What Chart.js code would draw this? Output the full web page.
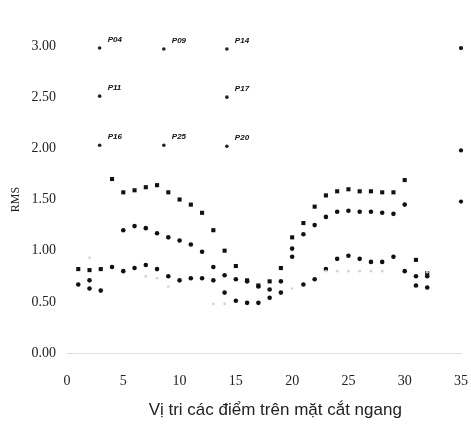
<!DOCTYPE html>
<html>
<head>
<meta charset="utf-8">
<script src="https://cdn.jsdelivr.net/npm/chart.js@4/dist/chart.umd.min.js"></script>
<style>
html,body{margin:0;padding:0;background:#fff;}
canvas{display:block;}
</style>
</head>
<body>
<canvas id="c" width="471" height="428"></canvas>
<script>
// ---- data ----
const positions = [1,2,3,4,5,6,7,8,9,10,11,12,13,14,15,16,17,18,19,20,21,22,23,24,25,26,27,28,29,30,31,32];
const seriesTop = [0.82,0.81,0.82,1.70,1.57,1.59,1.62,1.64,1.57,1.50,1.45,1.37,1.20,1.00,0.85,0.71,0.66,0.70,0.83,1.13,1.27,1.43,1.54,1.58,1.60,1.58,1.58,1.57,1.57,1.69,0.91,0.78];
const seriesMid = [null,null,null,null,1.20,1.24,1.22,1.17,1.13,1.10,1.06,0.99,0.84,0.76,0.72,0.70,0.65,0.62,0.70,1.02,1.16,1.25,1.33,1.38,1.39,1.38,1.38,1.37,1.36,1.45,0.75,0.75];
const seriesLow = [null,0.71,null,0.84,0.80,0.83,0.86,0.82,0.75,0.71,0.73,0.73,0.71,null,null,null,null,null,null,0.94,0.67,0.72,0.82,0.92,0.95,0.92,0.89,0.89,0.94,0.80,0.66,0.64];
const seriesBottom = [0.67,0.63,0.61,null,null,null,null,null,null,null,null,null,null,0.59,0.51,0.49,0.49,0.54,0.59,null,null,null,null,null,null,null,null,null,null,null,null,null];
const seriesFaint = [null,0.93,null,null,null,null,0.75,0.73,0.65,null,null,null,0.48,0.48,null,null,null,null,null,0.63,null,null,0.80,0.80,0.80,0.80,0.80,0.80,null,null,null,0.79];
const edgeX = [35,35,35];
const edgeY = [2.98,1.98,1.48];
const keyNames = ["P04","P09","P14","P11","P17","P16","P25","P20"];
const keyX = [2.9,8.6,14.2,2.9,14.2,2.9,8.6,14.2];
const keyY = [2.98,2.97,2.97,2.51,2.50,2.03,2.03,2.02];
const xTicks = [0,5,10,15,20,25,30,35];
const yTicks = [0,0.5,1,1.5,2,2.5,3];
const xTitle = "Vị tri các điểm trên mặt cắt ngang";
const yTitle = "RMS";

function pts(xs, ys){
  const out = [];
  for (let i=0;i<xs.length;i++){ if (ys[i]!==null) out.push({x:xs[i], y:ys[i]}); }
  return out;
}

const keyLabels = {
  id:'keyLabels',
  afterDatasetsDraw(chart){
    const ctx = chart.ctx;
    const idx = chart.data.datasets.findIndex(d=>d.isKey);
    const meta = chart.getDatasetMeta(idx);
    ctx.save();
    ctx.font = 'italic bold 8px "Liberation Sans", Arial, sans-serif';
    ctx.fillStyle = '#111';
    ctx.textBaseline = 'middle';
    meta.data.forEach((el,i)=>{
      ctx.fillText(keyNames[i], el.x + 8, el.y - 8);
    });
    ctx.restore();
  }
};

const xTitlePlugin = {
  id:'xTitlePlugin',
  afterDraw(chart){
    const ctx = chart.ctx;
    const xs = chart.scales.x;
    ctx.save();
    ctx.font = '17px "Liberation Sans", Arial, sans-serif';
    ctx.fillStyle = '#222';
    ctx.textAlign = 'center';
    ctx.textBaseline = 'middle';
    ctx.fillText(xTitle, xs.getPixelForValue(18.5), xs.bottom - 18);
    ctx.restore();
  }
};

const black = '#111';
new Chart(document.getElementById('c'), {
  type:'scatter',
  data:{
    datasets:[
      {data:pts(positions, seriesFaint), pointStyle:'circle', pointRadius:1.3, backgroundColor:'#d0d0d0', borderColor:'#d0d0d0', borderWidth:0},
      {data:pts(positions, seriesTop), pointStyle:'rect', pointRadius:2.9, backgroundColor:black, borderColor:black, borderWidth:0},
      {data:pts(positions, seriesMid), pointStyle:'circle', pointRadius:2.3, backgroundColor:black, borderColor:black, borderWidth:0},
      {data:pts(positions, seriesLow), pointStyle:'circle', pointRadius:2.3, backgroundColor:black, borderColor:black, borderWidth:0},
      {data:pts(positions, seriesBottom), pointStyle:'circle', pointRadius:2.3, backgroundColor:black, borderColor:black, borderWidth:0},
      {data:pts(edgeX, edgeY), clip:false, pointStyle:'circle', pointRadius:2.1, backgroundColor:black, borderColor:black, borderWidth:0},
      {isKey:true, data:pts(keyX, keyY), pointStyle:'circle', pointRadius:1.8, backgroundColor:'#222', borderColor:'#222', borderWidth:0}
    ]
  },
  options:{
    responsive:false,
    animation:false,
    events:[],
    layout:{padding:{top:46, right:10, left:0, bottom:0}},
    plugins:{legend:{display:false}, tooltip:{enabled:false}},
    scales:{
      x:{
        type:'linear', min:0, max:35,
        afterBuildTicks(s){ s.ticks = xTicks.map(v=>({value:v})); },
        afterFit(s){ s.height = 75; },
        grid:{display:true, drawOnChartArea:false, drawTicks:true, tickLength:20, tickColor:'rgba(0,0,0,0)', color:'rgba(0,0,0,0)'},
        border:{display:true, color:'#dddddd', width:1, dash:[2,6]},
        ticks:{padding:0, color:'#222', font:{family:'"Liberation Serif", "Times New Roman", serif', size:14}, callback:v=>String(v)}
      },
      y:{
        type:'linear', min:0, max:3,
        afterBuildTicks(s){ s.ticks = yTicks.map(v=>({value:v})); },
        afterFit(s){ s.width = 67; },
        grid:{display:false, drawTicks:false},
        border:{display:false},
        ticks:{padding:11, color:'#222', font:{family:'"Liberation Serif", "Times New Roman", serif', size:14}, callback:v=>Number(v).toFixed(2)},
        title:{display:true, text:yTitle, color:'#222', font:{family:'"Liberation Serif", "Times New Roman", serif', size:12}, padding:{top:9, bottom:0}}
      }
    }
  },
  plugins:[keyLabels, xTitlePlugin]
});
</script>
</body>
</html>
